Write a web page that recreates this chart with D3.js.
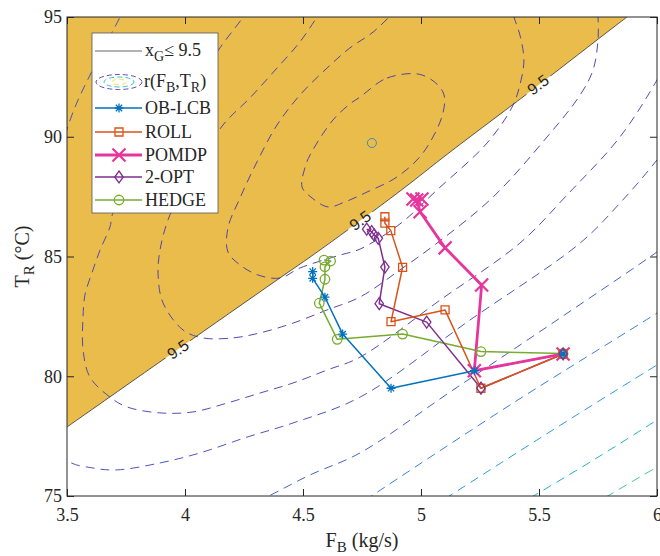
<!DOCTYPE html>
<html><head><meta charset="utf-8">
<script src="https://cdn.jsdelivr.net/npm/d3@7"></script>
<style>body{margin:0;background:#fff}svg{display:block}</style>
</head><body>
<svg id="chart" width="660" height="556"></svg>
<script>
// ---------- data ----------
const xDomain = [3.5, 6];
const yDomain = [75, 95];
const xTicks = [3.5, 4, 4.5, 5, 5.5, 6];
const xTickLabels = ["3.5", "4", "4.5", "5", "5.5", "6"];
const yTicks = [75, 80, 85, 90, 95];
const yTickLabels = ["75", "80", "85", "90", "95"];

// constraint boundary x_G = 9.5 (F_B, T_R)
const boundary = [[3.5,77.88],[3.966,81.10],[4.390,84.02],[4.572,85.27],[4.911,87.73],[5.123,89.36],[5.504,92.20],[5.801,94.46],[5.873,95.0]];
const boundaryLabelPos = [[3.970,81.12],[4.742,86.50],[5.496,92.17]];
const boundaryLabelText = "9.5";

// contour lines of r(F_B,T_R), traced
const contour1 = [[4.742,91.66],[4.856,92.45],[5.004,92.58],[5.093,91.87],[5.093,90.99],[5.008,89.32],[4.898,88.32],[4.771,87.69],[4.678,87.28],[4.606,87.07],[4.534,87.48],[4.496,87.90],[4.508,88.70],[4.530,89.24],[4.627,90.70],[4.699,91.37]];
const contour2 = [[4.903,95.38],[4.797,94.37],[4.699,93.71],[4.602,92.87],[4.487,91.74],[4.390,90.49],[4.305,88.95],[4.233,87.44],[4.182,86.19],[4.182,85.19],[4.233,84.65],[4.309,84.23],[4.403,84.10],[4.487,84.52],[4.657,85.06],[4.742,85.31],[4.911,86.36],[5.068,87.78],[5.280,89.74],[5.386,91.24],[5.419,92.16],[5.436,93.20],[5.419,94.25],[5.394,95.0],[5.381,95.5]];
const contour3 = [[4.581,95.38],[4.559,95.0],[4.487,93.96],[4.390,92.87],[4.275,91.62],[4.161,90.49],[4.042,88.61],[3.936,86.73],[3.894,85.27],[3.886,84.23],[3.907,83.06],[3.992,81.93],[4.076,81.60],[4.203,81.60],[4.318,81.81],[4.458,82.22],[4.602,82.77],[4.742,83.31],[4.911,84.44],[5.068,85.56],[5.305,87.48],[5.534,89.99],[5.674,91.74],[5.729,92.79],[5.750,94.04],[5.750,95.0],[5.746,95.5]];
const contour4 = [[4.267,95.38],[4.246,95.0],[4.148,93.71],[4.021,91.74],[3.894,89.66],[3.767,87.78],[3.695,86.82],[3.682,86.23],[3.640,85.27],[3.610,84.44],[3.576,83.39],[3.568,82.47],[3.568,81.10],[3.597,79.97],[3.682,79.13],[3.754,78.72],[3.894,78.47],[4.034,78.51],[4.178,78.88],[4.318,79.30],[4.458,79.72],[4.602,80.26],[4.742,80.80],[5.081,83.18],[5.419,85.56],[5.619,87.57],[5.843,89.99],[6.0,92.37],[6.047,93.29]];
const contour5 = [[3.750,95.5],[3.725,95.0],[3.619,93.0],[3.521,90.91],[3.470,89.03],[3.462,85.90],[3.436,81.93],[3.419,78.17],[3.5,76.50],[3.610,76.17],[3.712,76.09],[3.894,76.38],[4.064,76.80],[4.263,77.46],[4.458,78.05],[4.742,79.13],[5.208,82.35],[5.674,85.56],[5.843,87.23],[6.0,89.03],[6.076,90.07]];
const contour6 = [[4.191,74.21],[4.347,74.96],[4.530,75.88],[4.742,76.80],[5.123,79.34],[5.589,82.43],[6.0,85.19],[6.097,85.90]];
const contour7 = [[4.657,74.12],[4.784,74.96],[5.390,78.88],[6.0,82.64],[6.097,83.27]];
const contour8 = [[4.996,74.21],[5.114,74.96],[5.559,77.76],[6.0,80.47],[6.097,81.05]];
const contour9 = [[5.356,74.29],[5.470,74.96],[5.737,76.54],[6.0,78.17],[6.097,78.76]];
const contour10 = [[5.674,74.33],[5.784,74.96],[6.0,76.21],[6.097,76.75]];
const contourOptimum = [4.792, 89.74];

// trajectories (F_B kg/s, T_R degC)
const seriesNames = ["OB-LCB", "ROLL", "POMDP", "2-OPT", "HEDGE"];
const obLcb = [[5.602,80.93],[5.226,80.23],[4.873,79.50],[4.668,81.76],[4.593,83.30],[4.541,84.09],[4.541,84.37]];
const roll = [[5.602,80.93],[5.254,79.50],[5.102,82.77],[4.873,82.28],[4.922,84.55],[4.872,86.08],[4.847,86.39],[4.847,86.66]];
const pomdp = [[5.602,80.93],[5.226,80.23],[5.257,83.81],[5.102,85.36],[4.996,86.87],[4.982,87.36],[5.004,87.40],[4.966,87.40]];
const twoOpt = [[5.602,80.93],[5.254,79.50],[5.024,82.26],[4.823,83.03],[4.847,84.56],[4.819,85.76],[4.801,85.90],[4.791,86.04],[4.770,86.14]];
const hedge = [[5.602,80.95],[5.254,81.03],[4.922,81.76],[4.645,81.54],[4.569,83.05],[4.593,84.05],[4.593,84.57],[4.617,84.81],[4.589,84.85]];

// ---------- styles ----------
const contours = [contour1,contour2,contour3,contour4,contour5,contour6,contour7,contour8,contour9,contour10];
const contourColors = ['#4b3da9','#4b3da9','#4a40ae','#4845b3','#454dba','#3e5ac4','#2f78d8','#2697de','#18b0c8','#3cc196'];
const seriesData = [obLcb, roll, pomdp, twoOpt, hedge];
const seriesColors = ['#0072BD','#D95319','#E8359C','#7E2F8E','#77AC30'];
const seriesWidths = [1.5, 1.5, 2.8, 1.5, 1.5];
const seriesMarkers = ['star','square','x','diamond','circle'];
const markerSizes = [9, 8, 13, 10, 9.5];
const markerWidths = [1.3, 1.3, 2.2, 1.3, 1.3];
const lineOrder = [4, 3, 0, 1, 2];
const markerOrder = [4, 2, 1, 3, 0];
const fillColor = '#e9bc4b';
const axisColor = '#262626';
const serif = '"Liberation Serif","Times New Roman",serif';
const sans = '"Liberation Sans",Arial,sans-serif';

// ---------- chart ----------
const M = {left: 67, right: 657, top: 17, bottom: 496};
const x = d3.scaleLinear().domain(xDomain).range([M.left, M.right]);
const y = d3.scaleLinear().domain(yDomain).range([M.bottom, M.top]);
const svg = d3.select('#chart');
const defs = svg.append('defs');
defs.append('clipPath').attr('id','plotClip').append('rect')
  .attr('x', M.left).attr('y', M.top).attr('width', M.right - M.left).attr('height', M.bottom - M.top);

const plot = svg.append('g').attr('clip-path', 'url(#plotClip)');

// fill of infeasible region
const bLine = d3.line().x(d => x(d[0])).y(d => y(d[1])).curve(d3.curveCatmullRom.alpha(0.5));
plot.append('path')
  .attr('d', bLine(boundary) + `L${x(xDomain[0])},${y(yDomain[1])}Z`)
  .attr('fill', fillColor).attr('stroke', 'none');

// contours
const cLine = d3.line().x(d => x(d[0])).y(d => y(d[1])).curve(d3.curveCatmullRom.alpha(0.5));
const cLineClosed = d3.line().x(d => x(d[0])).y(d => y(d[1])).curve(d3.curveCatmullRomClosed.alpha(0.5));
contours.forEach((c, i) => {
  plot.append('path')
    .attr('d', i === 0 ? cLineClosed(c) : cLine(c))
    .attr('fill', 'none').attr('stroke', contourColors[i])
    .attr('stroke-width', 1).attr('stroke-opacity', 0.95)
    .attr('stroke-dasharray', '9,6');
});
plot.append('circle')
  .attr('cx', x(contourOptimum[0])).attr('cy', y(contourOptimum[1])).attr('r', 4.5)
  .attr('fill', 'none').attr('stroke', '#3d8dbd').attr('stroke-width', 1);

// boundary labels with gaps
function angleAt(F) {
  for (let i = 0; i < boundary.length - 1; i++) {
    if (F >= boundary[i][0] && F <= boundary[i+1][0]) {
      const dx = x(boundary[i+1][0]) - x(boundary[i][0]);
      const dy = y(boundary[i+1][1]) - y(boundary[i][1]);
      return Math.atan2(dy, dx) * 180 / Math.PI;
    }
  }
  return -36;
}
const mask = defs.append('mask').attr('id', 'bMask').attr('maskUnits', 'userSpaceOnUse')
  .attr('x', 0).attr('y', 0).attr('width', 660).attr('height', 556);
mask.append('rect').attr('x', 0).attr('y', 0).attr('width', 660).attr('height', 556).attr('fill', '#fff');
boundaryLabelPos.forEach(p => {
  mask.append('rect').attr('x', -15).attr('y', -8).attr('width', 30).attr('height', 16)
    .attr('fill', '#000')
    .attr('transform', `translate(${x(p[0])},${y(p[1])}) rotate(${angleAt(p[0])})`);
});
plot.append('path').attr('d', bLine(boundary)).attr('fill', 'none')
  .attr('stroke', '#333').attr('stroke-width', 0.8).attr('mask', 'url(#bMask)');
boundaryLabelPos.forEach(p => {
  plot.append('text').text(boundaryLabelText)
    .attr('transform', `translate(${x(p[0])},${y(p[1])}) rotate(${angleAt(p[0])})`)
    .attr('text-anchor', 'middle').attr('dominant-baseline', 'central')
    .attr('font-family', sans).attr('font-size', 16).attr('fill', '#262626');
});

// markers
function markerPath(type, s) {
  const r = s / 2;
  switch (type) {
    case 'star': {
      const k = 0.707 * r;
      return `M0,${-r}L0,${r}M${-r},0L${r},0M${-k},${-k}L${k},${k}M${-k},${k}L${k},${-k}`;
    }
    case 'x': return `M${-r},${-r}L${r},${r}M${-r},${r}L${r},${-r}`;
    case 'square': return `M${-r},${-r}H${r}V${r}H${-r}Z`;
    case 'diamond': return `M0,${-r*1.2}L${r*0.85},0L0,${r*1.2}L${-r*0.85},0Z`;
    case 'circle': return `M${r},0A${r},${r} 0 1,1 ${-r},0A${r},${r} 0 1,1 ${r},0Z`;
  }
}
const sLine = d3.line().x(d => x(d[0])).y(d => y(d[1]));
lineOrder.forEach(i => {
  plot.append('path').attr('d', sLine(seriesData[i])).attr('fill', 'none')
    .attr('stroke', seriesColors[i]).attr('stroke-width', seriesWidths[i])
    .attr('stroke-linejoin', 'round');
});
markerOrder.forEach(i => {
  plot.append('g').selectAll('path').data(seriesData[i]).join('path')
    .attr('d', markerPath(seriesMarkers[i], markerSizes[i]))
    .attr('transform', d => `translate(${x(d[0])},${y(d[1])})`)
    .attr('fill', 'none').attr('stroke', seriesColors[i]).attr('stroke-width', markerWidths[i]);
});

// axes
function styleAxis(g) {
  g.select('.domain').remove();
  g.selectAll('.tick line').attr('stroke', axisColor).attr('stroke-width', 1);
  g.selectAll('.tick text').attr('font-family', serif).attr('font-size', 18).attr('fill', axisColor);
}
svg.append('g').attr('transform', `translate(0,${M.bottom})`)
  .call(d3.axisBottom(x).tickValues(xTicks).tickFormat((d, i) => xTickLabels[i]).tickSizeInner(-7).tickSizeOuter(0).tickPadding(12))
  .call(styleAxis);
svg.append('g').attr('transform', `translate(0,${M.top})`)
  .call(d3.axisTop(x).tickValues(xTicks).tickFormat('').tickSizeInner(-7).tickSizeOuter(0))
  .call(styleAxis);
svg.append('g').attr('transform', `translate(${M.left},0)`)
  .call(d3.axisLeft(y).tickValues(yTicks).tickFormat((d, i) => yTickLabels[i]).tickSizeInner(-7).tickSizeOuter(0).tickPadding(5))
  .call(styleAxis);
svg.append('g').attr('transform', `translate(${M.right},0)`)
  .call(d3.axisRight(y).tickValues(yTicks).tickFormat('').tickSizeInner(-7).tickSizeOuter(0))
  .call(styleAxis);
svg.append('rect').attr('x', M.left).attr('y', M.top).attr('width', M.right - M.left).attr('height', M.bottom - M.top)
  .attr('fill', 'none').attr('stroke', axisColor).attr('stroke-width', 1);

// axis labels
const xl = svg.append('text').attr('x', (M.left + M.right) / 2).attr('y', 547)
  .attr('text-anchor', 'middle').attr('font-family', serif).attr('font-size', 20).attr('fill', axisColor);
xl.append('tspan').text('F');
xl.append('tspan').text('B').attr('font-size', 15).attr('dy', 5);
xl.append('tspan').text(' (kg/s)').attr('dy', -5);
const yl = svg.append('text').attr('transform', `translate(29,${(M.top + M.bottom) / 2}) rotate(-90)`)
  .attr('text-anchor', 'middle').attr('font-family', serif).attr('font-size', 20).attr('fill', axisColor);
yl.append('tspan').text('T');
yl.append('tspan').text('R').attr('font-size', 15).attr('dy', 5);
yl.append('tspan').text(' (°C)').attr('dy', -5);

// legend
const L = {x: 92, y: 33, w: 126, h: 180, lx0: 95, lx1: 142, mx: 119, tx: 145};
const lg = svg.append('g');
lg.append('rect').attr('x', L.x).attr('y', L.y).attr('width', L.w).attr('height', L.h)
  .attr('fill', '#fff').attr('stroke', '#555').attr('stroke-width', 0.8);
const rowY = [51, 82, 108, 132, 155, 177, 200];
// row 1: boundary
lg.append('line').attr('x1', L.lx0).attr('x2', L.lx1).attr('y1', rowY[0]).attr('y2', rowY[0])
  .attr('stroke', '#666').attr('stroke-width', 1);
const t1 = lg.append('text').attr('x', L.tx).attr('y', rowY[0] + 5).attr('font-family', serif).attr('font-size', 18).attr('fill', axisColor);
t1.append('tspan').text('x');
t1.append('tspan').text('G').attr('font-size', 14).attr('dy', 5);
t1.append('tspan').text('≤ 9.5').attr('dy', -5);
// row 2: contour icon
const iconR = [[23, 7.5, contourColors[0]], [15, 5, '#2bb7c9'], [7, 2.8, '#f2e33a']];
iconR.forEach(e => {
  lg.append('ellipse').attr('cx', L.mx).attr('cy', rowY[1]).attr('rx', e[0]).attr('ry', e[1])
    .attr('fill', 'none').attr('stroke', e[2]).attr('stroke-width', 0.9).attr('stroke-dasharray', '5,3');
});
const t2 = lg.append('text').attr('x', L.tx - 1).attr('y', rowY[1] + 5).attr('font-family', serif).attr('font-size', 18).attr('fill', axisColor);
t2.append('tspan').text('r(F');
t2.append('tspan').text('B').attr('font-size', 14).attr('dy', 5);
t2.append('tspan').text(',T').attr('dy', -5);
t2.append('tspan').text('R').attr('font-size', 14).attr('dy', 5);
t2.append('tspan').text(')').attr('dy', -5);
// series rows
seriesNames.forEach((n, i) => {
  const yy = rowY[i + 2];
  lg.append('line').attr('x1', L.lx0).attr('x2', L.lx1).attr('y1', yy).attr('y2', yy)
    .attr('stroke', seriesColors[i]).attr('stroke-width', seriesWidths[i]);
  lg.append('path').attr('d', markerPath(seriesMarkers[i], markerSizes[i]))
    .attr('transform', `translate(${L.mx},${yy})`)
    .attr('fill', 'none').attr('stroke', seriesColors[i]).attr('stroke-width', markerWidths[i]);
  lg.append('text').text(n).attr('x', L.tx).attr('y', yy + 6)
    .attr('font-family', serif).attr('font-size', 18).attr('fill', axisColor);
});
</script>
</body></html>
